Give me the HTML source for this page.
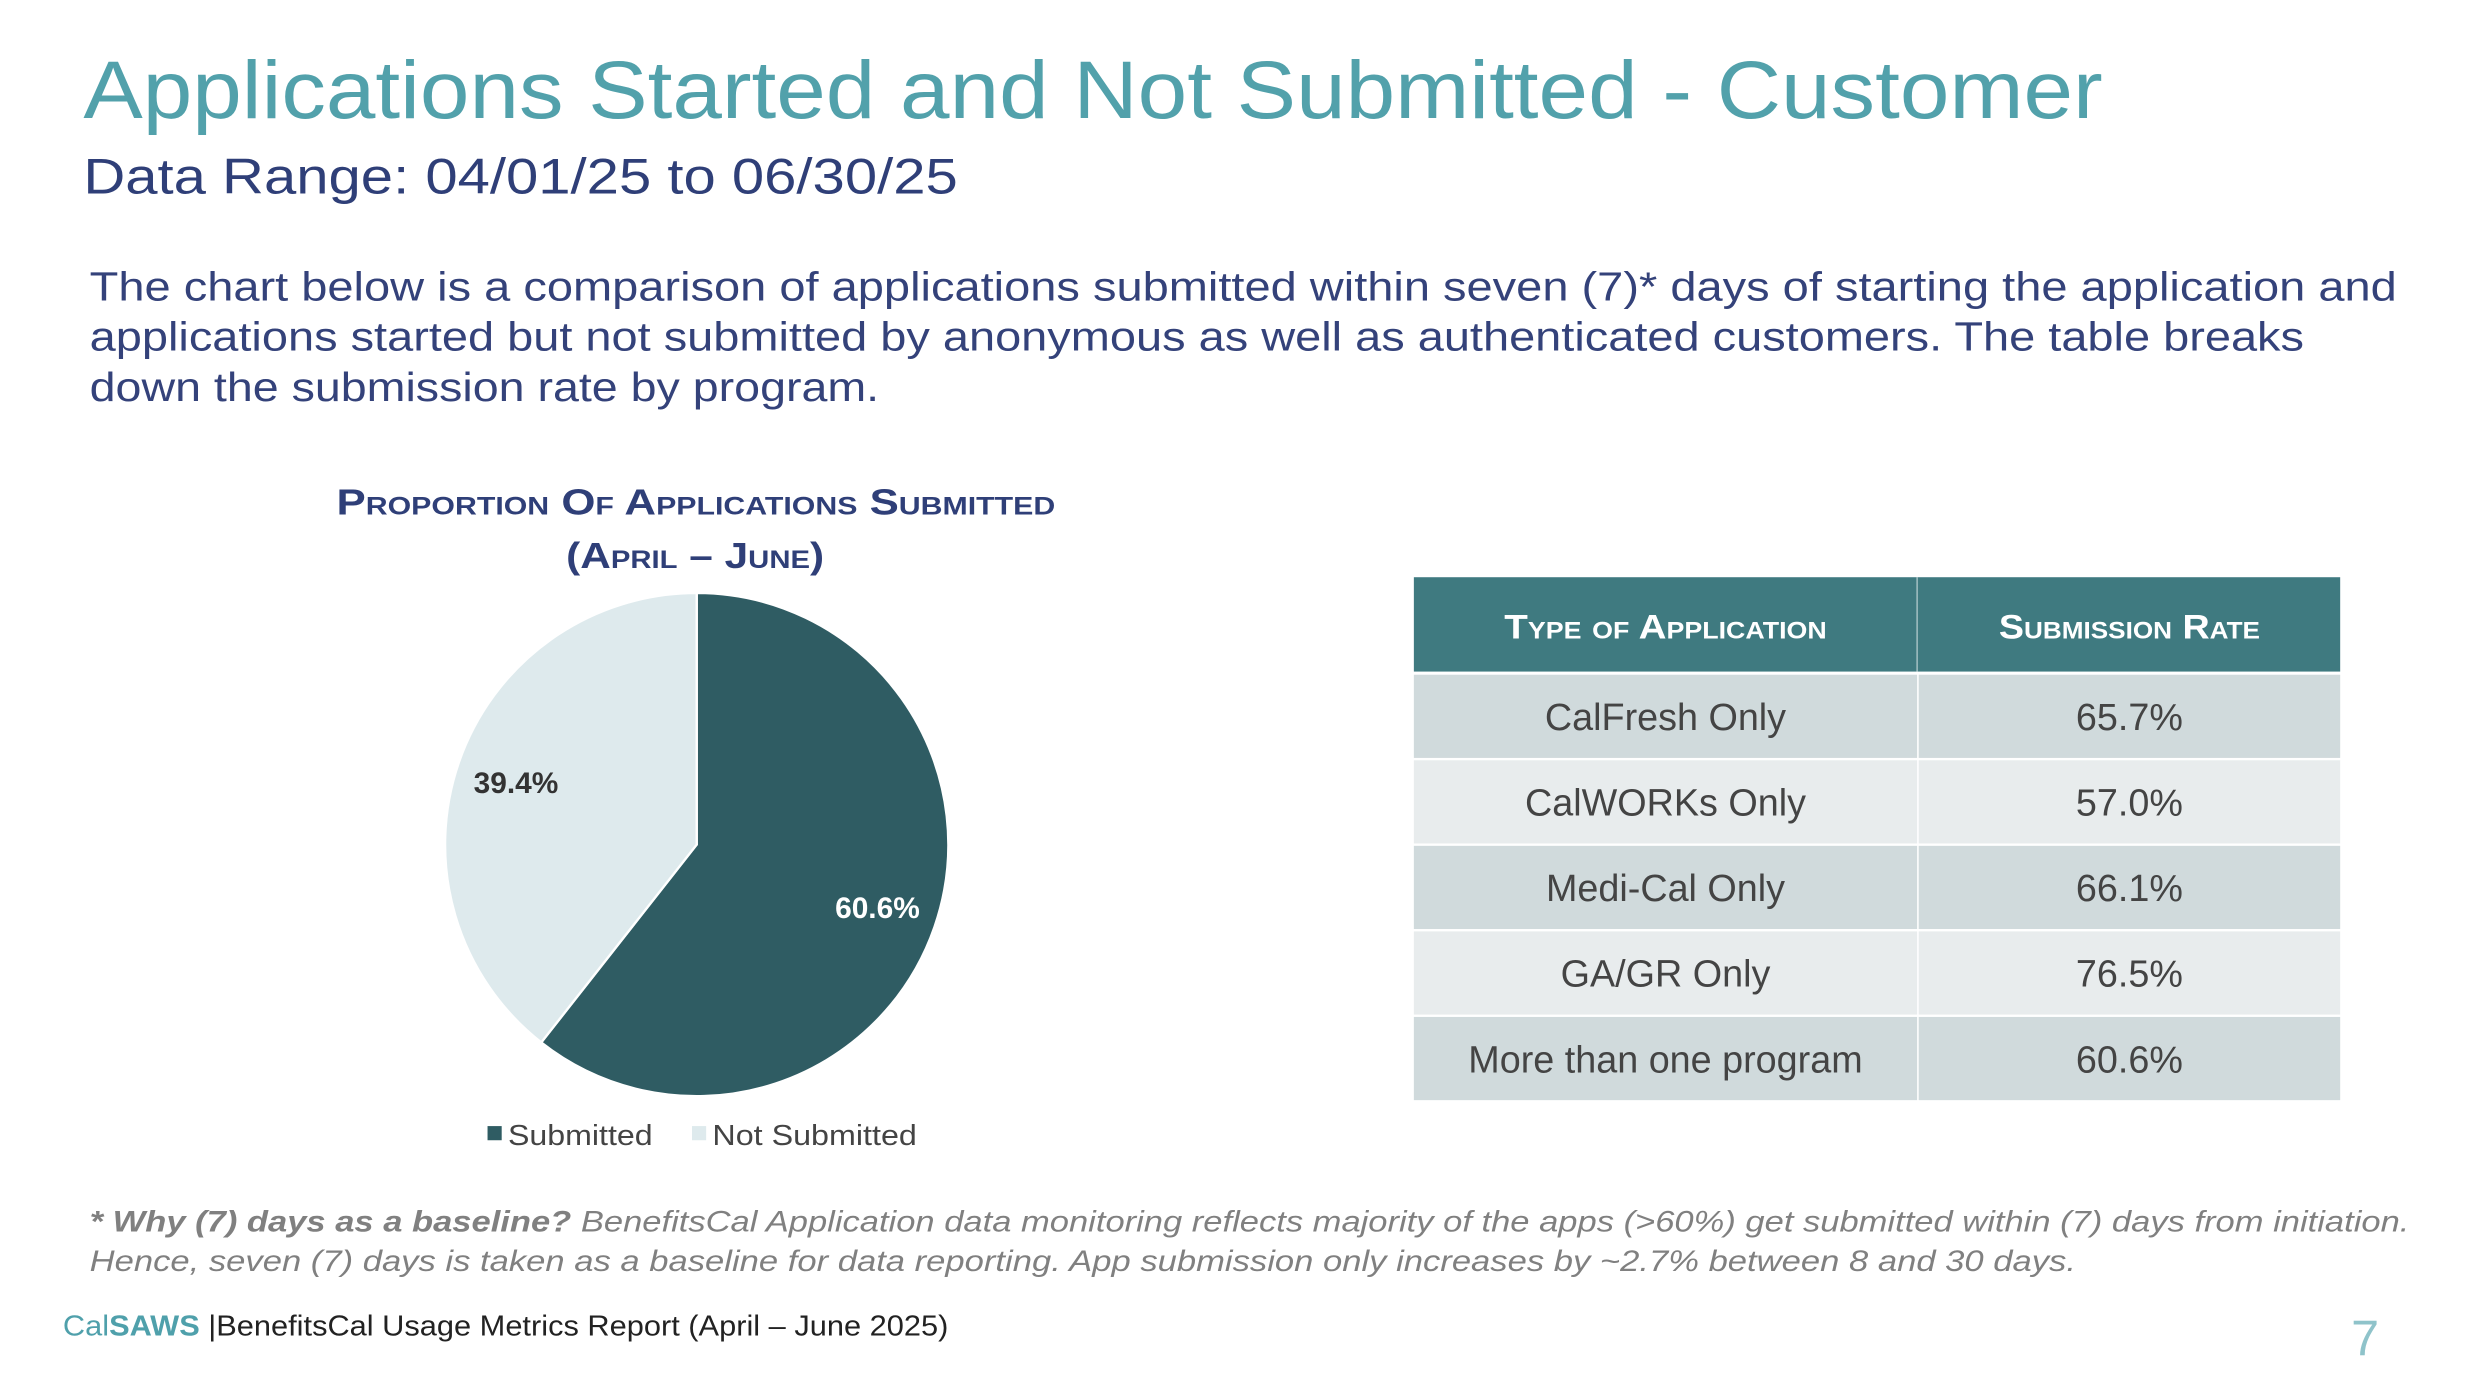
<!DOCTYPE html>
<html><head><meta charset="utf-8"><style>
html,body{margin:0;padding:0;background:#fff;}
svg{display:block;font-family:"Liberation Sans",sans-serif;}
</style></head><body>
<svg id="s" width="2466" height="1396" viewBox="0 0 1568 887.6" xmlns="http://www.w3.org/2000/svg">
<text x="53" y="75" font-size="52" fill="#52a1ab" textLength="1284" lengthAdjust="spacingAndGlyphs">Applications Started and Not Submitted - Customer</text>
<text x="53" y="123" font-size="32" fill="#2f3f78" textLength="556" lengthAdjust="spacingAndGlyphs">Data Range: 04/01/25 to 06/30/25</text>
<g font-size="26" fill="#34427a">
<text x="57" y="191" textLength="1467" lengthAdjust="spacingAndGlyphs">The chart below is a comparison of applications submitted within seven (7)* days of starting the application and</text>
<text x="57" y="223" textLength="1408" lengthAdjust="spacingAndGlyphs">applications started but not submitted by anonymous as well as authenticated customers. The table breaks</text>
<text x="57" y="255" textLength="502" lengthAdjust="spacingAndGlyphs">down the submission rate by program.</text>
</g>
<g font-size="23" font-weight="bold" fill="#2f3f78" style="font-variant:small-caps">
<text x="214" y="327" textLength="457" lengthAdjust="spacingAndGlyphs">Proportion Of Applications Submitted</text>
<text x="360" y="361" textLength="164" lengthAdjust="spacingAndGlyphs">(April – June)</text>
</g>
<g id="pie"></g>
<g font-size="18" fill="#444">
<rect x="310" y="716" width="9" height="9" fill="#2f5c63"/>
<text x="323" y="728" textLength="92" lengthAdjust="spacingAndGlyphs">Submitted</text>
<rect x="440" y="716" width="9" height="9" fill="#deeaed"/>
<text x="453" y="728" textLength="130" lengthAdjust="spacingAndGlyphs">Not Submitted</text>
</g>
<g id="tbl">
<rect x="899" y="367" width="589" height="60" fill="#3f7a80"/>
<line x1="1219" y1="367" x2="1219" y2="427" stroke="#fff" stroke-width="1" opacity="0.5"/>
<text x="1059" y="406" text-anchor="middle" font-size="22" font-weight="bold" fill="#fff" style="font-variant:small-caps" textLength="205" lengthAdjust="spacingAndGlyphs">Type of Application</text>
<text x="1354" y="406" text-anchor="middle" font-size="22" font-weight="bold" fill="#fff" style="font-variant:small-caps" textLength="166" lengthAdjust="spacingAndGlyphs">Submission Rate</text>
</g>
<g font-size="19" font-style="italic" fill="#808080">
<text x="57" y="783" textLength="1475" lengthAdjust="spacingAndGlyphs"><tspan font-weight="bold">* Why (7) days as a baseline?</tspan> BenefitsCal Application data monitoring reflects majority of the apps (&gt;60%) get submitted within (7) days from initiation.</text>
<text x="57" y="808" textLength="1263" lengthAdjust="spacingAndGlyphs">Hence, seven (7) days is taken as a baseline for data reporting.  App submission only increases by ~2.7% between 8 and 30 days.</text>
</g>
<text x="40" y="849" font-size="18" fill="#222" textLength="563" lengthAdjust="spacingAndGlyphs"><tspan fill="#4fa0ab">Cal</tspan><tspan fill="#4fa0ab" font-weight="bold">SAWS</tspan>  |BenefitsCal Usage Metrics Report (April – June 2025)</text>
<text x="1495" y="862" font-size="32" fill="#8fc3ca">7</text>
</svg>
<script>
const categories = ["Submitted", "Not Submitted"];
const values = [60.6, 39.4];
const labels = ["60.6%", "39.4%"];
const rowNames = ["CalFresh Only", "CalWORKs Only", "Medi-Cal Only", "GA/GR Only", "More than one program"];
const rowRates = ["65.7%", "57.0%", "66.1%", "76.5%", "60.6%"];
const NS = "http://www.w3.org/2000/svg";
const pie = document.getElementById('pie');
const cx = 443, cy = 537, r = 160;
const colors = ["#2f5c63", "#deeaed"];
const labelColors = ["#fff", "#333"];
const total = values.reduce((a, b) => a + b, 0);
let a0 = 0;
values.forEach((v, i) => {
  const a1 = a0 + v / total * 2 * Math.PI;
  const p = (a) => [cx + r * Math.sin(a), cy - r * Math.cos(a)];
  const [x0, y0] = p(a0), [x1, y1] = p(a1);
  const large = (a1 - a0) > Math.PI ? 1 : 0;
  const path = document.createElementNS(NS, 'path');
  path.setAttribute('d', `M${cx},${cy} L${x0},${y0} A${r},${r} 0 ${large} 1 ${x1},${y1} Z`);
  path.setAttribute('fill', colors[i]);
  path.setAttribute('stroke', '#fff');
  path.setAttribute('stroke-width', '1.5');
  
  
  pie.appendChild(path);
  const am = (a0 + a1) / 2;
  const lr = r * 0.76;
  const t = document.createElementNS(NS, 'text');
  t.setAttribute('x', cx + lr * Math.sin(am));
  t.setAttribute('y', cy - lr * Math.cos(am) + 7);
  t.setAttribute('text-anchor', 'middle');
  t.setAttribute('font-size', '19');
  t.setAttribute('font-weight', 'bold');
  t.setAttribute('fill', labelColors[i]);
  t.textContent = labels[i];
  
  
  pie.appendChild(t);
  a0 = a1;
});
const tbl = document.getElementById('tbl');
const rowH = 54.4, top0 = 428;
rowNames.forEach((n, i) => {
  const y = top0 + i * rowH;
  const fill = i % 2 === 0 ? "#d0dadc" : "#e8eced";
  [[899, 320], [1220, 268]].forEach(([x, w], j) => {
    const rc = document.createElementNS(NS, 'rect');
    rc.setAttribute('x', x); rc.setAttribute('y', y + 1);
    rc.setAttribute('width', w); rc.setAttribute('height', rowH - 1.5);
    rc.setAttribute('fill', fill);
    
    
    tbl.appendChild(rc);
  });
  const t1 = document.createElementNS(NS, 'text');
  t1.setAttribute('x', 1059); t1.setAttribute('y', y + rowH / 2 + 9);
  t1.setAttribute('text-anchor', 'middle'); t1.setAttribute('font-size', '24'); t1.setAttribute('fill', '#444');
  t1.textContent = n;
  
  
  tbl.appendChild(t1);
  const t2 = document.createElementNS(NS, 'text');
  t2.setAttribute('x', 1354); t2.setAttribute('y', y + rowH / 2 + 9);
  t2.setAttribute('text-anchor', 'middle'); t2.setAttribute('font-size', '24'); t2.setAttribute('fill', '#444');
  t2.textContent = rowRates[i];
  
  
  tbl.appendChild(t2);
});
</script>
</body></html>
